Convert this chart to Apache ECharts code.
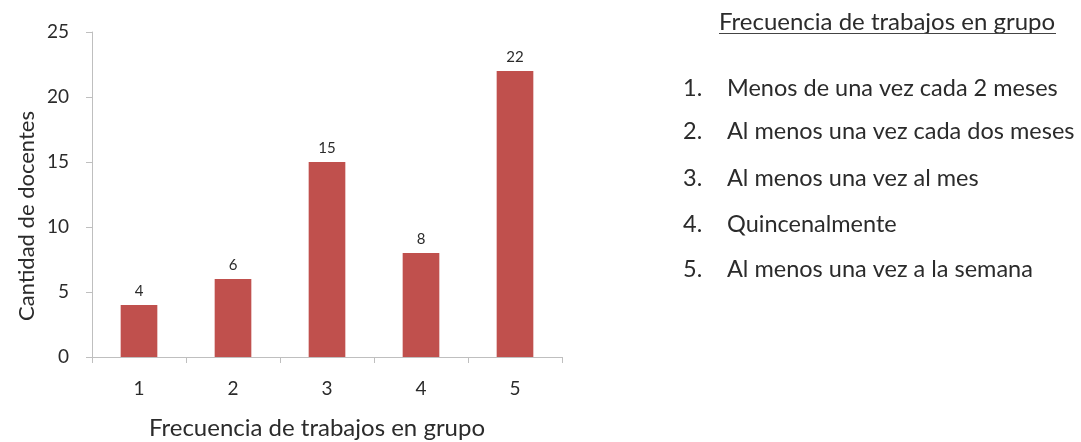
<!DOCTYPE html>
<html>
<head>
<meta charset="utf-8">
<script src="https://cdn.jsdelivr.net/npm/echarts@6/dist/echarts.min.js"></script>
<style>
  html, body { margin: 0; padding: 0; background: #ffffff; }
  #chart { width: 1081px; height: 442px; }
</style>
</head>
<body>
<div id="chart"></div>
<script>
// Frequency categories and number of teachers in each
const categories = ['1', '2', '3', '4', '5'];
const teacherCounts = [4, 6, 15, 8, 22];
const yTicks = [0, 5, 10, 15, 20, 25];

const legendTitle = 'Frecuencia de trabajos en grupo';
const legendNumbers = ['1.', '2.', '3.', '4.', '5.'];
const legendItems = [
  'Menos de una vez cada 2 meses',
  'Al menos una vez cada dos meses',
  'Al menos una vez al mes',
  'Quincenalmente',
  'Al menos una vez a la semana'
];

const FONT = 'Lato, "Open Sans", sans-serif';
const TEXT = '#2b2b2b';
const AXIS = '#bfbfbf';

const chart = echarts.init(document.getElementById('chart'), null, { renderer: 'canvas' });

// Legend block on the right: underlined title and numbered list
const graphics = [];
graphics.push({
  type: 'text', x: 719, y: 22,
  style: { text: legendTitle, font: '24px ' + FONT, fill: TEXT,
           textAlign: 'left', textVerticalAlign: 'middle' }
});
graphics.push({
  type: 'line', shape: { x1: 719, y1: 33.5, x2: 1056, y2: 33.5 },
  style: { stroke: '#444444', lineWidth: 1.2 }
});
const rowY = [88, 131, 178, 224, 269];
legendItems.forEach((t, i) => {
  graphics.push({
    type: 'text', x: 683, y: rowY[i],
    style: { text: legendNumbers[i], font: '23.5px ' + FONT, fill: TEXT,
             textAlign: 'left', textVerticalAlign: 'middle' }
  });
  graphics.push({
    type: 'text', x: 727, y: rowY[i],
    style: { text: t, font: '23.5px ' + FONT, fill: TEXT,
             textAlign: 'left', textVerticalAlign: 'middle' }
  });
});
// Vertical y-axis title
graphics.push({
  type: 'text', x: 27, y: 216, rotation: Math.PI / 2,
  style: { text: 'Cantidad de docentes', font: '22px ' + FONT, fill: TEXT,
           textAlign: 'center', textVerticalAlign: 'middle' }
});

chart.setOption({
  animation: false,
  backgroundColor: '#ffffff',
  grid: { left: 92, right: 519, top: 32, bottom: 85, containLabel: false, outerBoundsMode: 'none' },
  xAxis: {
    type: 'category',
    data: categories,
    name: 'Frecuencia de trabajos en grupo',
    nameLocation: 'middle',
    nameGap: 59,
    nameTextStyle: { fontFamily: FONT, fontSize: 24, color: TEXT, padding: [0, 20, 0, 0] },
    axisLine: { lineStyle: { color: AXIS, width: 1 } },
    axisTick: { show: true, alignWithLabel: false, length: 6, lineStyle: { color: AXIS } },
    axisLabel: { fontFamily: FONT, fontSize: 19, color: TEXT, margin: 22 }
  },
  yAxis: {
    type: 'value',
    min: yTicks[0],
    max: yTicks[yTicks.length - 1],
    interval: 5,
    axisLine: { show: true, lineStyle: { color: AXIS, width: 1 } },
    axisTick: { show: true, length: 6, lineStyle: { color: AXIS } },
    splitLine: { show: false },
    axisLabel: { fontFamily: FONT, fontSize: 19, color: TEXT, margin: 23 }
  },
  series: [{
    type: 'bar',
    data: teacherCounts,
    barWidth: '39%',
    itemStyle: { color: '#c0504d' },
    label: {
      show: true, position: 'top', distance: 6,
      fontFamily: FONT, fontSize: 15, color: '#2b2b2b'
    }
  }],
  graphic: graphics
});
</script>
</body>
</html>
